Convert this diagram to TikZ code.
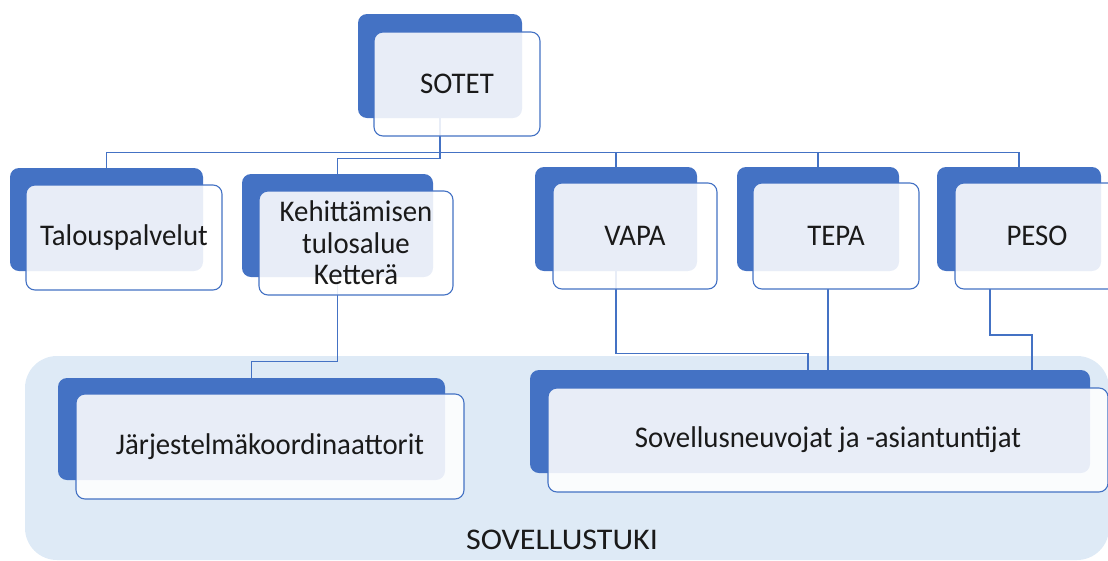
\documentclass[tikz,border=0pt]{standalone}
\usepackage{fontspec}
\setmainfont{Carlito}[FakeStretch=0.96]
\newfontfamily\widefont{Carlito}[FakeStretch=1.07]
\usetikzlibrary{calc}
\definecolor{dk}{HTML}{4472C4}
\definecolor{bgc}{HTML}{DEEAF6}
\definecolor{txt}{HTML}{1A1A1A}
\tikzset{
  backbox/.style={fill=dk, draw=none, rounded corners=9pt, inner sep=0pt},
  frontbox/.style={fill=white, fill opacity=0.88, text opacity=1, draw=dk, line width=1.1pt,
    rounded corners=9pt, inner sep=0pt, align=center, text=txt,
    font=\fontsize{30}{31.5}\selectfont},
  conn/.style={draw=dk, line width=1.1pt},
  bglabel/.style={text=txt, inner sep=0pt, font=\widefont\fontsize{30}{31.5}\selectfont},
}
\begin{document}
\begin{tikzpicture}[x=1pt,y=-1pt]
\useasboundingbox (0,0) rectangle (1108,560);
% background region
\node[fill=bgc, rounded corners=32pt, minimum width=1084pt, minimum height=204pt, inner sep=0pt] (bg) at (567,458) {};
\node[bglabel] (bgl) at (562,540) {SOVELLUSTUKI};
% back boxes
\node[backbox, minimum width=164pt, minimum height=104pt] (sotetB) at (440,66) {};
\node[backbox, minimum width=193pt, minimum height=103pt] (talB) at (106.5,219.5) {};
\node[backbox, minimum width=191pt, minimum height=103pt] (kehB) at (337.5,225.5) {};
\node[backbox, minimum width=162pt, minimum height=104pt] (vapaB) at (616,219) {};
\node[backbox, minimum width=162pt, minimum height=104pt] (tepaB) at (818,219) {};
\node[backbox, minimum width=164pt, minimum height=104pt] (pesoB) at (1019,219) {};
\node[backbox, minimum width=387pt, minimum height=102pt] (jarB) at (251.5,429) {};
\node[backbox, minimum width=560pt, minimum height=103pt] (sovB) at (810,421.5) {};
% connectors
\coordinate (bus) at ($(sotetB.south)+(0,34)$);
\draw[conn] (sotetB.south) -- (bus);
\draw[conn] (bus) -| (talB.north);
\draw[conn] (bus) -- ++(0,6) -| (kehB.north);
\draw[conn] (bus) -| (vapaB.north);
\draw[conn] (bus) -| (tepaB.north);
\draw[conn] (bus) -| (pesoB.north);
\draw[conn] (kehB.south) -- ++(0,84) -| (jarB.north);
\draw[conn] (vapaB.south) -- ++(0,82) -| ([xshift=-2pt]sovB.north);
\coordinate (tepaS) at (828,289);
\draw[conn] (tepaS) -- (tepaS |- sovB.north);
\coordinate (pesoS) at (990,289);
\draw[conn] (pesoS) -- ++(0,46) -| ([xshift=222pt]sovB.north);
% front boxes
\node[frontbox, minimum width=166pt, minimum height=104pt] (sotet) at (457,84) {SOTET};
\node[frontbox, minimum width=196pt, minimum height=105pt] (tal) at (124,237.5) {Talouspalvelut};
\node[frontbox, minimum width=194pt, minimum height=104pt] (keh) at (356,243) {Kehittämisen\\tulosalue\\Ketterä};
\node[frontbox, minimum width=164pt, minimum height=106pt] (vapa) at (635,236) {VAPA};
\node[frontbox, minimum width=166pt, minimum height=106pt] (tepa) at (836,236) {TEPA};
\node[frontbox, minimum width=164pt, minimum height=106pt] (peso) at (1037,236) {PESO};
\node[frontbox, minimum width=388pt, minimum height=105pt] (jar) at (270,446.5) {Järjestelmäkoordinaattorit};
\node[frontbox, minimum width=560pt, minimum height=104pt] (sov) at (828,440) {Sovellusneuvojat ja -asiantuntijat};
\end{tikzpicture}
\end{document}
